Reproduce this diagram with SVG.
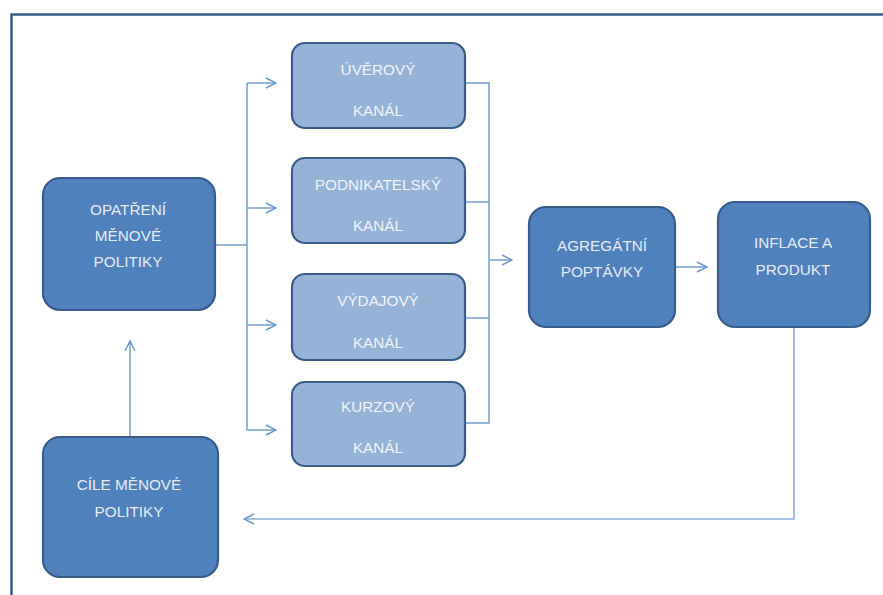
<svg xmlns="http://www.w3.org/2000/svg" width="883" height="595" viewBox="0 0 883 595">
<style>
.dark{fill:#4f81bd;stroke:#385d8a;stroke-width:2.2}
.light{fill:#95b3d7;stroke:#385d8a;stroke-width:2.2}
.t{font-family:"Liberation Sans",Arial,sans-serif;font-size:15.3px;text-anchor:middle}
.td{fill:#e4ebf5}
.tl{fill:#f0f4fa}
.c{fill:none;stroke:#6d98cf;stroke-width:1.4}
.fb{fill:none;stroke:#8aaedb;stroke-width:1.6}
</style>
<defs>
<marker id="ah" viewBox="0 0 12 12" refX="11" refY="6" markerWidth="12" markerHeight="12" markerUnits="userSpaceOnUse" orient="auto">
<polyline points="1,1 11,6 1,11" fill="none" stroke="#6d98cf" stroke-width="1.4"/>
</marker>
</defs>
<rect x="11.5" y="14.5" width="900" height="600" fill="#ffffff" stroke="#385d8a" stroke-width="2.5"/>
<g id="connectors">
<polyline class="c" points="215,245 247,245"/>
<polyline class="c" points="247,83 247,430"/>
<polyline class="c" points="247,83 276,83" marker-end="url(#ah)"/>
<polyline class="c" points="247,208 276,208" marker-end="url(#ah)"/>
<polyline class="c" points="247,325 276,325" marker-end="url(#ah)"/>
<polyline class="c" points="247,430 276,430" marker-end="url(#ah)"/>
<polyline class="c" points="465,83 489,83 489,423 465,423"/>
<polyline class="c" points="465,202 489,202"/>
<polyline class="c" points="465,318 489,318"/>
<polyline class="c" points="489,260 512,260" marker-end="url(#ah)"/>
<polyline class="c" points="675,267 707,267" marker-end="url(#ah)"/>
<polyline class="fb" points="794,327 794,519 244,519" marker-end="url(#ah)"/>
<polyline class="c" points="130,437 130,341" marker-end="url(#ah)"/>
</g>
<g id="opatreni">
<rect class="dark" x="43" y="178" width="172" height="132" rx="17"/>
<text class="t td" x="128" y="215">OPATŘENÍ</text>
<text class="t td" x="128" y="241">MĚNOVÉ</text>
<text class="t td" x="128" y="267">POLITIKY</text>
</g>
<g id="uverovy">
<rect class="light" x="292" y="43" width="173" height="85" rx="13"/>
<text class="t tl" x="378" y="75">ÚVĚROVÝ</text>
<text class="t tl" x="378" y="116">KANÁL</text>
</g>
<g id="podnikatelsky">
<rect class="light" x="292" y="158" width="173" height="85" rx="13"/>
<text class="t tl" x="378" y="190">PODNIKATELSKÝ</text>
<text class="t tl" x="378" y="231">KANÁL</text>
</g>
<g id="vydajovy">
<rect class="light" x="292" y="274" width="173" height="86" rx="13"/>
<text class="t tl" x="378" y="306">VÝDAJOVÝ</text>
<text class="t tl" x="378" y="348">KANÁL</text>
</g>
<g id="kurzovy">
<rect class="light" x="292" y="382" width="173" height="84" rx="13"/>
<text class="t tl" x="378" y="412">KURZOVÝ</text>
<text class="t tl" x="378" y="453">KANÁL</text>
</g>
<g id="agregatni">
<rect class="dark" x="529" y="207" width="146" height="120" rx="17"/>
<text class="t td" x="602" y="251">AGREGÁTNÍ</text>
<text class="t td" x="602" y="277">POPTÁVKY</text>
</g>
<g id="inflace">
<rect class="dark" x="718" y="202" width="152" height="125" rx="17"/>
<text class="t td" x="793" y="248">INFLACE A</text>
<text class="t td" x="793" y="275">PRODUKT</text>
</g>
<g id="cile">
<rect class="dark" x="43" y="437" width="175" height="140" rx="17"/>
<text class="t td" x="129" y="490">CÍLE MĚNOVÉ</text>
<text class="t td" x="129" y="517">POLITIKY</text>
</g>
</svg>
